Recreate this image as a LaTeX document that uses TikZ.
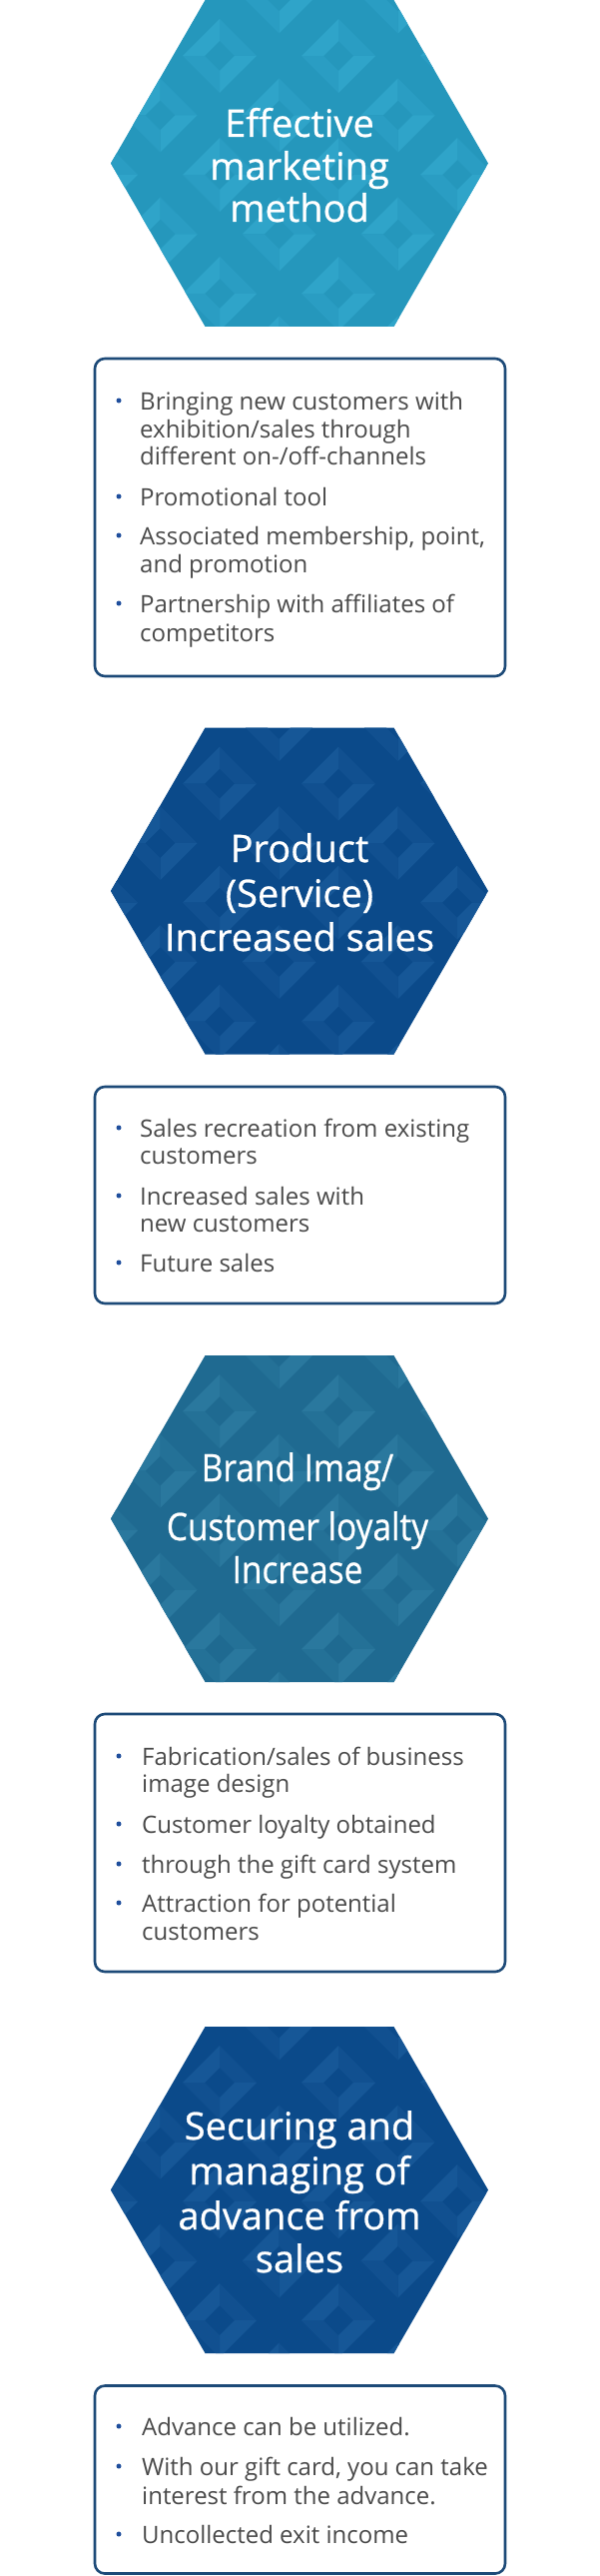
\documentclass[tikz,border=0pt]{standalone}
\usepackage{fontspec}
\setmainfont{Open Sans}
\newfontfamily\hexfont[FakeBold=0.7]{Open Sans}
\definecolor{hexA}{HTML}{2597BC}
\definecolor{hexAl}{HTML}{2FA4C9}
\definecolor{hexAm}{HTML}{2A9DC3}
\definecolor{hexB}{HTML}{0B4A8A}
\definecolor{hexBl}{HTML}{165797}
\definecolor{hexBm}{HTML}{115090}
\definecolor{hexC}{HTML}{1F6A91}
\definecolor{hexCl}{HTML}{2A789E}
\definecolor{hexCm}{HTML}{247197}
\definecolor{boxblue}{HTML}{1D4A78}
\definecolor{txtgray}{HTML}{4A4A4A}
\definecolor{dotblue}{HTML}{1F4E9C}
\newcommand{\hexpath}[1]{(111,#1+163.5) -- (205.5,#1) -- (394.5,#1) -- (489,#1+163.5) -- (394.5,#1+327) -- (205.5,#1+327) -- cycle}
\newcommand{\myhexagon}[4]{%
 \begin{scope}
 \clip \hexpath{#1};
 \fill[#2] (100,#1-5) rectangle (500,#1+335);
 \foreach \n in {-1,...,5}{\foreach \i in {-1,...,3}{
   \pgfmathsetmacro\cx{220+119*\i-59.5*mod(\n+2,2)}
   \pgfmathsetmacro\cy{#1+56+59.5*\n}
   \fill[#3] (\cx-37,\cy) -- (\cx,\cy-37) -- (\cx,\cy-15) -- (\cx-15,\cy) -- cycle;
   \fill[#4] (\cx,\cy-37) -- (\cx+37,\cy) -- (\cx+15,\cy) -- (\cx,\cy-15) -- cycle;
   \fill[#3] (\cx+37,\cy) -- (\cx,\cy+37) -- (\cx,\cy+15) -- (\cx+15,\cy) -- cycle;
   \fill[#4] (\cx,\cy+37) -- (\cx-37,\cy) -- (\cx-15,\cy) -- (\cx,\cy+15) -- cycle;
 }}
 \end{scope}}
\tikzset{
  x=1pt, y=-1pt,
  btxt/.style={anchor=base west, inner sep=0pt, text=txtgray, font=\fontsize{24}{28}\selectfont},
  htxt/.style={anchor=base, inner sep=0pt, text=white, font=\hexfont\fontsize{38}{44}\selectfont},
  dot/.style={circle, fill=dotblue, inner sep=0pt, minimum size=5pt},
  infobox/.style={draw=boxblue, line width=2.6pt, rounded corners=10pt, fill=white, inner sep=0pt}
}
\begin{document}
\begin{tikzpicture}
\useasboundingbox (0,0) rectangle (600,2579);
% ---------- Hexagon 1
\myhexagon{0}{hexA}{hexAl}{hexAm}
\coordinate (hex1) at (300,163.5);
\node[htxt] (h1a) at (300,137) {Effective};
\node[htxt] (h1b) at (300,180) {marketing};
\node[htxt] (h1c) at (300,222) {method};
% ---------- Box 1
\node[infobox, minimum width=411pt, minimum height=318pt] (box1) at (300.5,518) {};
\node[dot] (d11) at (119,401) {};
\node[btxt] (t11) at (140,410) {Bringing new customers with};
\node[btxt] (t12) at (140,438) {exhibition/sales through};
\node[btxt] (t13) at (140,465) {different on-/off-channels};
\node[dot] (d12) at (119,497) {};
\node[btxt] (t14) at (140,506) {Promotional tool};
\node[dot] (d13) at (119,536) {};
\node[btxt] (t15) at (140,545) {Associated membership, point,};
\node[btxt] (t16) at (140,573) {and promotion};
\node[dot] (d14) at (119,604) {};
\node[btxt] (t17) at (140,613) {Partnership with affiliates of};
\node[btxt] (t18) at (140,642) {competitors};
% ---------- Hexagon 2
\myhexagon{728.5}{hexB}{hexBl}{hexBm}
\coordinate (hex2) at (300,892);
\node[htxt] (h2a) at (300,863) {Product};
\node[htxt] (h2b) at (300,908) {(Service)};
\node[htxt] (h2c) at (300,952) {Increased sales};
% ---------- Box 2
\node[infobox, minimum width=411pt, minimum height=217pt] (box2) at (300.5,1196.5) {};
\node[dot] (d21) at (119,1129) {};
\node[btxt] (t21) at (140,1138) {Sales recreation from existing};
\node[btxt] (t22) at (140,1165) {customers};
\node[dot] (d22) at (119,1197) {};
\node[btxt] (t23) at (140,1206) {Increased sales with};
\node[btxt] (t24) at (140,1233) {new customers};
\node[dot] (d23) at (119,1264) {};
\node[btxt] (t25) at (140,1273) {Future sales};
% ---------- Hexagon 3
\myhexagon{1357}{hexC}{hexCl}{hexCm}
\coordinate (hex3) at (300,1520);
\node[htxt] (h3a) at (298,1483) {\scalebox{0.88}[1]{Brand Imag/}};
\node[htxt] (h3b) at (298,1542) {\scalebox{0.88}[1]{Customer loyalty}};
\node[htxt] (h3c) at (298,1585) {\scalebox{0.88}[1]{Increase}};
% ---------- Box 3
\node[infobox, minimum width=411pt, minimum height=258pt] (box3) at (300.5,1845) {};
\node[dot] (d31) at (119,1758) {};
\node[btxt] (t31) at (142,1767) {Fabrication/sales of business};
\node[btxt] (t32) at (142,1794) {image design};
\node[dot] (d32) at (119,1826) {};
\node[btxt] (t33) at (142,1835) {Customer loyalty obtained};
\node[dot] (d33) at (119,1866) {};
\node[btxt] (t34) at (142,1875) {through the gift card system};
\node[dot] (d34) at (119,1905) {};
\node[btxt] (t35) at (142,1914) {Attraction for potential};
\node[btxt] (t36) at (142,1942) {customers};
% ---------- Hexagon 4
\myhexagon{2029}{hexB}{hexBl}{hexBm}
\coordinate (hex4) at (300,2193);
\node[htxt] (h4a) at (300,2142) {Securing and};
\node[htxt] (h4b) at (300,2187) {managing of};
\node[htxt] (h4c) at (300,2232) {advance from};
\node[htxt] (h4d) at (300,2275) {sales};
% ---------- Box 4
\node[infobox, minimum width=411pt, minimum height=188pt] (box4) at (300.5,2482.5) {};
\node[dot] (d41) at (119,2429) {};
\node[btxt] (t41) at (142,2438) {Advance can be utilized.};
\node[dot] (d42) at (119,2469) {};
\node[btxt] (t42) at (142,2478) {With our gift card, you can take};
\node[btxt] (t43) at (142,2507) {interest from the advance.};
\node[dot] (d43) at (119,2537) {};
\node[btxt] (t44) at (142,2546) {Uncollected exit income};
\end{tikzpicture}
\end{document}
